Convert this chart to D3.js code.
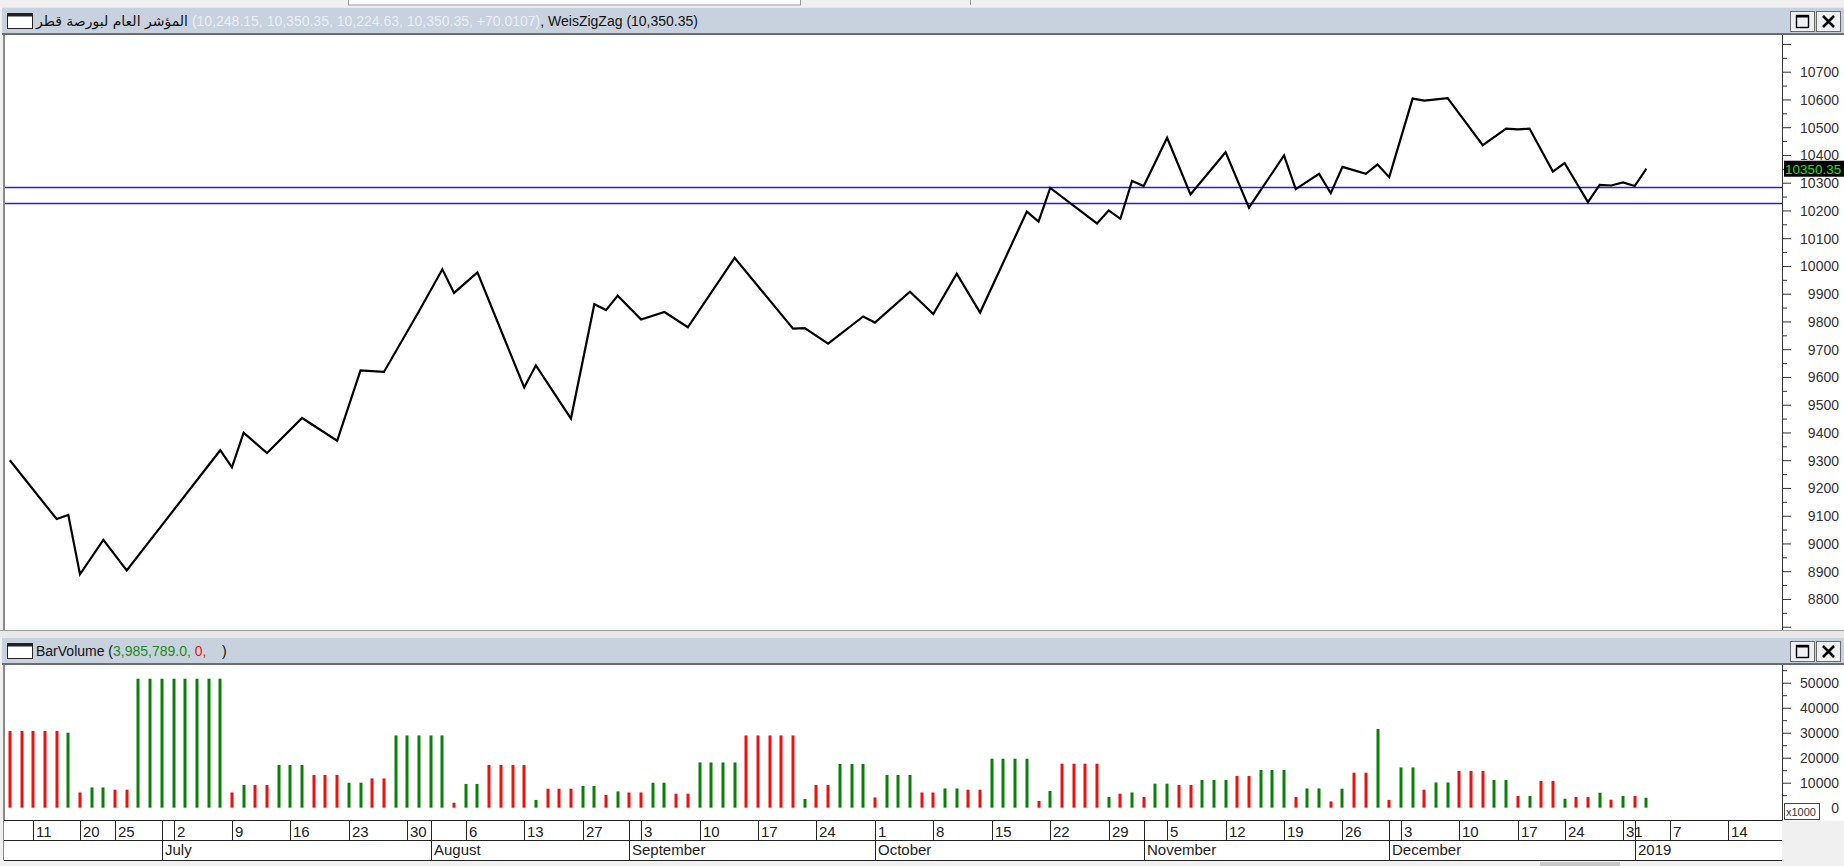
<!DOCTYPE html>
<html><head><meta charset="utf-8">
<script src="https://cdn.jsdelivr.net/npm/d3@7"></script>
<style>body{margin:0;background:#f0f0f0;overflow:hidden}svg{display:block}</style>
</head><body><svg id="c" width="1844" height="866"></svg>
<script>
// ---------------- data ----------------
const instrumentName = "المؤشر العام لبورصة قطر";
const headerValues = "(10,248.15, 10,350.35, 10,224.63, 10,350.35, +70.0107)";
const indicatorLabel = ", WeisZigZag (10,350.35)";
const volumeTitle = ["BarVolume (", "3,985,789.0,", " 0,", "    )"];

// trading calendar (Sun-Thu sessions)
const startDate = "2018-06-07";
const holidays = ["2018-06-14","2018-06-17","2018-06-18","2018-08-19","2018-08-20","2018-08-21","2018-08-22","2018-08-23","2018-12-18","2019-01-01"];
const sessionCount = 152;

// WeisZigZag swing points (session index, value)
const zigzagIndex = [0,4,5,6,8,10,18,19,20,22,25,28,30,32,35,37,38,40,44,45,48,50,51,52,54,56,58,62,67,68,70,73,74,77,79,81,83,87,88,89,93,94,95,96,97,99,101,104,106,109,110,112,113,114,116,117,118,120,121,123,126,128,129,130,132,133,135,136,137,138,139,140];
const zigzagValue = [9300,9088,9103,8889,9013,8903,9336,9274,9399,9326,9452,9370,9624,9618,9837,9988,9903,9977,9562,9642,9450,9862,9841,9893,9807,9834,9779,10029,9774,9776,9720,9818,9796,9907,9827,9972,9832,10196,10160,10281,10153,10200,10170,10306,10288,10462,10258,10410,10210,10398,10277,10332,10262,10357,10332,10366,10320,10603,10596,10605,10435,10495,10492,10495,10340,10371,10230,10292,10290,10301,10288,10350.35];

// bar volume (x1000) per session
const volume = [30700,30700,30700,30700,30700,30000,6100,8100,8100,7200,7200,
51600,51600,51600,51600,51600,51600,51600,51600,6100,9100,9100,9100,
17100,17100,17100,13100,13100,13100,10000,10000,11700,11700,
28900,28900,28900,28900,28900,2000,9500,9500,17100,17100,17100,17100,
3100,7600,7600,7600,8700,8700,5100,6500,6100,6100,10000,10000,5600,5600,
18100,18100,18100,18100,28900,28900,28900,28900,28900,3500,9100,9100,
17500,17500,17500,4100,13100,13100,13100,6100,6100,7700,7700,7200,7200,
19600,19600,19600,19600,2700,6700,17600,17600,17600,17600,4300,5600,6100,4300,
9600,9600,9100,9100,11100,11100,11100,12700,12700,15100,15100,15100,4300,
7700,7700,2500,7600,14000,14000,31500,3100,16100,16100,7200,10100,10100,
14700,14700,14700,11100,11100,4700,4700,10700,10700,3600,4300,4300,6000,3200,4700,4700,3986];
// wave direction per session (u = up / green, d = down / red)
const direction = "ddddd u d uu dd uuuuuuuu d u dd uuu ddd uu dd uuuuu d uu dddd u ddd uu d u dd uu dd uuuu ddddd u dd uuu d uuu dd uu dd uuuu d u dddd u d u d uu dd uuu dd uuu d uu d u dd u d uu d uu ddd uu d u dd u dd u d u d u".replace(/ /g,"");

const levelLines = [10285, 10228];
const lastClose = 10350.35;
const priceTickLabels = [8800,8900,9000,9100,9200,9300,9400,9500,9600,9700,9800,9900,10000,10100,10200,10300,10400,10500,10600,10700];
const volumeTickLabels = [0,10000,20000,30000,40000,50000];
const weekTickDates = ["2018-06-11","2018-06-20","2018-06-25","2018-07-02","2018-07-09","2018-07-16","2018-07-23","2018-07-30","2018-08-06","2018-08-13","2018-08-27","2018-09-03","2018-09-10","2018-09-17","2018-09-24","2018-10-01","2018-10-08","2018-10-15","2018-10-22","2018-10-29","2018-11-05","2018-11-12","2018-11-19","2018-11-26","2018-12-03","2018-12-10","2018-12-17","2018-12-24","2018-12-31","2019-01-07","2019-01-14"];
const monthTickDates = ["2018-07-01","2018-08-01","2018-09-02","2018-10-01","2018-11-01","2018-12-02","2019-01-02"];
const monthTickLabels = ["July","August","September","October","November","December","2019"];

// ---------------- calendar ----------------
const tradingDays = [];
{
  const d = new Date(startDate + "T00:00:00Z");
  while (tradingDays.length < sessionCount) {
    const s = d.toISOString().slice(0,10), wd = d.getUTCDay();
    if (wd !== 5 && wd !== 6 && !holidays.includes(s)) tradingDays.push(s);
    d.setUTCDate(d.getUTCDate() + 1);
  }
}
const idxOf = new Map(tradingDays.map((s,i)=>[s,i]));

// ---------------- layout ----------------
const svg = d3.select("#c");
const W = 1844, H = 866;
const L = 4, R = 1782;
const mainTop = 35, mainBot = 630;
const volTop = 665, volBot = 820.5;
const dTop = 820.5, dMid = 840.5, dBot = 860.5;
const FONT = "'Liberation Sans', Arial, sans-serif";

const x = d3.scaleLinear().domain([-0.5, 151.6]).range([L, R]);
const yP = d3.scaleLinear().domain([8700, 10700]).range([626.7, 71.7]);
const yV = d3.scaleLinear().domain([0, 50000]).range([807.7, 682.7]);

svg.append("rect").attr("width", W).attr("height", H).attr("fill", "#f0f0f0");

// top strip
svg.append("rect").attr("x",348.5).attr("y",-1).attr("width",452).attr("height",6).attr("fill","#fff").attr("stroke","#9a9a9a");
svg.append("line").attr("x1",970.5).attr("x2",970.5).attr("y1",0).attr("y2",5).attr("stroke","#9a9a9a");

function titleBar(y0, h) {
  const g = svg.append("g");
  g.append("rect").attr("x",2).attr("y",y0).attr("width",W-2).attr("height",h).attr("fill","#c7d2de");
  g.append("line").attr("x1",2).attr("x2",W).attr("y1",y0+0.5).attr("y2",y0+0.5).attr("stroke","#e6ebf1");
  g.append("line").attr("x1",2).attr("x2",W).attr("y1",y0+h-1).attr("y2",y0+h-1).attr("stroke","#6d6d6d").attr("stroke-width",2);
  // window icon
  g.append("rect").attr("x",7.5).attr("y",y0+6.5).attr("width",25).attr("height",15).attr("fill","#fff").attr("stroke","#222");
  g.append("rect").attr("x",7.5).attr("y",y0+6.5).attr("width",25).attr("height",3).attr("fill","#222");
  // buttons
  [[1790,"max"],[1816,"close"]].forEach(([bx,t])=>{
    g.append("rect").attr("x",bx+0.5).attr("y",y0+4.5).attr("width",24).attr("height",20).attr("fill","#eef0f3").attr("stroke","#6a6a6a");
    if (t==="max") {
      g.append("rect").attr("x",bx+6.5).attr("y",y0+8.5).attr("width",12).attr("height",12).attr("fill","none").attr("stroke","#000").attr("stroke-width",1.4);
      g.append("line").attr("x1",bx+6.5).attr("x2",bx+18.5).attr("y1",y0+9.5).attr("y2",y0+9.5).attr("stroke","#000").attr("stroke-width",2);
    } else {
      g.append("path").attr("d",`M${bx+7},${y0+9}L${bx+18},${y0+20}M${bx+18},${y0+9}L${bx+7},${y0+20}`).attr("stroke","#000").attr("stroke-width",2.6);
    }
  });
  return g;
}

// ---------------- price panel ----------------
const tb1 = titleBar(7, 28);
{
  let tx = 36;
  const t1 = tb1.append("text").attr("x",tx).attr("y",26).attr("font-family","'DejaVu Sans', sans-serif").attr("font-size",14).attr("fill","#111").text(instrumentName);
  tx += t1.node().getComputedTextLength() + 4;
  const t2 = tb1.append("text").attr("x",tx).attr("y",26).attr("font-family",FONT).attr("font-size",14).attr("fill","#e9eef4").text(headerValues);
  tx += t2.node().getComputedTextLength();
  tb1.append("text").attr("x",tx).attr("y",26).attr("font-family",FONT).attr("font-size",14).attr("fill","#111").attr("xml:space","preserve").text(indicatorLabel);
}

svg.append("rect").attr("x",L).attr("y",mainTop).attr("width",W-L).attr("height",mainBot-mainTop).attr("fill","#fff");
svg.append("line").attr("x1",L).attr("x2",L).attr("y1",mainTop).attr("y2",mainBot).attr("stroke","#8a8a8a").attr("stroke-width",2);

svg.append("clipPath").attr("id","cp1").append("rect").attr("x",L+1).attr("y",mainTop).attr("width",R-L-1).attr("height",mainBot-mainTop);

const plot1 = svg.append("g").attr("clip-path","url(#cp1)");
plot1.selectAll("line.lvl").data(levelLines).join("line").attr("class","lvl")
  .attr("x1",L).attr("x2",R).attr("y1",d=>Math.round(yP(d))+0.5).attr("y2",d=>Math.round(yP(d))+0.5)
  .attr("stroke","#2222dd").attr("stroke-width",1.3);
const zz = zigzagIndex.map((i,k)=>[i, zigzagValue[k]]);
plot1.append("path").datum(zz).attr("fill","none").attr("stroke","#000").attr("stroke-width",2.2)
  .attr("stroke-linejoin","miter").attr("d", d3.line().x(d=>x(d[0])).y(d=>yP(d[1])));

// price axis
{
  const ticks = d3.range(8700, 10801, 50);
  const ax = d3.axisRight(yP).tickValues(ticks).tickSizeOuter(0).tickSize(9)
    .tickFormat(d => priceTickLabels.includes(d) ? String(d) : "");
  const g = svg.append("g").attr("transform",`translate(${R},0)`).call(ax);
  g.select(".domain").attr("stroke","#333").attr("d",`M0.5,${mainTop}V${mainBot}`);
  g.selectAll(".tick line").attr("stroke","#333").attr("x1",0.5).attr("x2",d=> d%100===0 ? 9 : 5);
  g.selectAll(".tick text").attr("x",57).attr("text-anchor","end").attr("font-family",FONT).attr("font-size",14).attr("fill","#333").attr("dy","0.35em");
  g.attr("font-family",null).attr("font-size",null);
  // last value marker
  const yy = yP(lastClose);
  svg.append("rect").attr("x",R+2).attr("y",yy-8).attr("width",W-R-2).attr("height",16).attr("fill","#000");
  svg.append("text").attr("x",R+3).attr("y",yy+5).attr("font-family",FONT).attr("font-size",13.5).attr("fill","#21e021").text(d3.format(".2f")(lastClose));
}

// separator between panels
svg.append("rect").attr("x",0).attr("y",mainBot).attr("width",W).attr("height",7).attr("fill","#e8e8e8");
svg.append("line").attr("x1",0).attr("x2",W).attr("y1",mainBot+0.5).attr("y2",mainBot+0.5).attr("stroke","#a0a0a0");

// ---------------- volume panel ----------------
const tb2 = titleBar(637, 28);
{
  const t = tb2.append("text").attr("x",36).attr("y",656).attr("font-family",FONT).attr("font-size",14).attr("xml:space","preserve");
  const cols = ["#111","#1c8a1c","#e01818","#111"];
  volumeTitle.forEach((s,k)=> t.append("tspan").attr("fill",cols[k]).text(s));
}
svg.append("rect").attr("x",L).attr("y",volTop).attr("width",W-L).attr("height",volBot-volTop).attr("fill","#fff");
svg.append("line").attr("x1",L).attr("x2",L).attr("y1",volTop).attr("y2",dBot).attr("stroke","#8a8a8a").attr("stroke-width",2);

const bars = volume.map((v,i)=>({i, v, up: direction[i]==="u"}));
svg.append("g").selectAll("rect").data(bars).join("rect")
  .attr("x", d=> Math.round(x(d.i)) - 1.5).attr("width", 3)
  .attr("y", d=> yV(d.v)).attr("height", d=> yV(0) - yV(d.v))
  .attr("fill", d=> d.up ? "#0a800a" : "#f01010");

{
  const ticks = d3.range(5000, 55001, 5000);
  const ax = d3.axisRight(yV).tickValues(ticks).tickSizeOuter(0).tickSize(9)
    .tickFormat(d => volumeTickLabels.includes(d) ? String(d) : "");
  const g = svg.append("g").attr("transform",`translate(${R},0)`).call(ax);
  g.select(".domain").attr("stroke","#333").attr("d",`M0.5,${volTop}V${volBot}`);
  g.selectAll(".tick line").attr("stroke","#333").attr("x1",0.5).attr("x2",d=> d%10000===0 ? 9 : 5);
  g.selectAll(".tick text").attr("x",57).attr("text-anchor","end").attr("font-family",FONT).attr("font-size",14).attr("fill","#333").attr("dy","0.35em");
  g.attr("font-family",null).attr("font-size",null);
  svg.append("text").attr("x",R+57).attr("y",yV(0)).attr("dy","0.35em").attr("text-anchor","end").attr("font-family",FONT).attr("font-size",14).attr("fill","#333").text(volumeTickLabels[0]);
  svg.append("rect").attr("x",R+2.5).attr("y",803.5).attr("width",35).attr("height",16).attr("fill","#fff").attr("stroke","#444");
  svg.append("text").attr("x",R+4).attr("y",815.5).attr("font-family",FONT).attr("font-size",11).attr("fill","#333").text("x1000");
}

// ---------------- date axis ----------------
{
  const g = svg.append("g");
  g.append("rect").attr("x",L).attr("y",dTop).attr("width",R-L).attr("height",dBot-dTop).attr("fill","#fff");
  [dTop, dMid, dBot].forEach(yy => g.append("line").attr("x1",L).attr("x2",R).attr("y1",yy).attr("y2",yy).attr("stroke","#222"));
  g.append("line").attr("x1",R+0.5).attr("x2",R+0.5).attr("y1",volTop).attr("y2",dTop).attr("stroke","#333");
  const wk = weekTickDates.map(s => ({i: idxOf.get(s), label: String(+s.slice(8))}));
  g.selectAll("line.wk").data(wk).join("line").attr("class","wk")
    .attr("x1",d=>Math.round(x(d.i))+0.5).attr("x2",d=>Math.round(x(d.i))+0.5).attr("y1",dTop).attr("y2",dMid).attr("stroke","#222");
  g.selectAll("text.wk").data(wk).join("text").attr("class","wk")
    .attr("x",d=>Math.round(x(d.i))+3).attr("y",dMid-4).attr("font-family",FONT).attr("font-size",15).attr("fill","#222").text(d=>d.label);
  const mo = monthTickDates.map((s,k) => ({i: idxOf.get(s), label: monthTickLabels[k]}));
  g.selectAll("line.mo").data(mo).join("line").attr("class","mo")
    .attr("x1",d=>Math.round(x(d.i))+0.5).attr("x2",d=>Math.round(x(d.i))+0.5).attr("y1",dTop).attr("y2",dBot).attr("stroke","#222");
  g.selectAll("text.mo").data(mo).join("text").attr("class","mo")
    .attr("x",d=>Math.round(x(d.i))+3).attr("y",dBot-6).attr("font-family",FONT).attr("font-size",15).attr("fill","#222").text(d=>d.label);
}
// bottom strip
svg.append("rect").attr("x",1540).attr("y",862).attr("width",80).attr("height",4).attr("fill","#c8c8c8");
</script></body></html>
